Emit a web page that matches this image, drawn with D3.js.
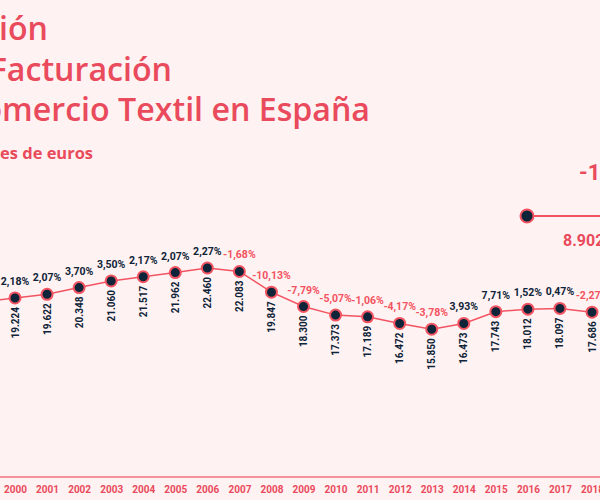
<!DOCTYPE html>
<html>
<head>
<meta charset="utf-8">
<script src="https://cdn.jsdelivr.net/npm/d3@7/dist/d3.min.js"></script>
<style>
  html, body { margin: 0; padding: 0; background: #fff2f2; }
  svg { display: block; }
</style>
</head>
<body>
<div id="chart"></div>
<script>
/* global d3 */

// Facturación del comercio textil, millones de euros
const years = [1999, 2000, 2001, 2002, 2003, 2004, 2005, 2006, 2007, 2008, 2009,
  2010, 2011, 2012, 2013, 2014, 2015, 2016, 2017, 2018];
const values = [18814, 19224, 19622, 20348, 21060, 21517, 21962, 22460, 22083, 19847, 18300,
  17373, 17189, 16472, 15850, 16473, 17743, 18012, 18097, 17686];
const changes = [null, '2,18%', '2,07%', '3,70%', '3,50%', '2,17%', '2,07%', '2,27%', '-1,68%', '-10,13%', '-7,79%',
  '-5,07%', '-1,06%', '-4,17%', '-3,78%', '3,93%', '7,71%', '1,52%', '0,47%', '-2,27%'];
const valueLabels = [null, '19.224', '19.622', '20.348', '21.060', '21.517', '21.962', '22.460', '22.083', '19.847', '18.300',
  '17.373', '17.189', '16.472', '15.850', '16.473', '17.743', '18.012', '18.097', '17.686'];
const titleLines = ['Evolución', 'Facturación', 'Comercio Textil en España'];
const subtitle = 'Millones de euros';
const calloutValue = '8.902';
const calloutChange = '-1';

const RED = '#e94a5c', LINE = '#f25462', NAVY = '#0e2438', NEG = '#f2535f', AXIS = '#f6929c';
const FONT_NUM = 'Roboto, sans-serif', FONT_TITLE = '"Open Sans", sans-serif';

const w = 600, h = 500;
const svg = d3.select('#chart').append('svg').attr('width', w).attr('height', h);

// size title so the visible part of the last line spans like the reference
function measure(str, size, weight) {
  const t = svg.append('text').attr('font-size', size).attr('font-weight', weight)
    .attr('font-family', FONT_TITLE).text(str);
  const len = t.node().getComputedTextLength();
  t.remove();
  return len;
}
const titleSize = 32 * 368 / measure('mercio Textil en España', 32, 600);
const subSize = 15 * 93 / measure('es de euros', 15, 700);

// title (cropped on the left, like the reference)
const titleEnds = [48, 172, 370];
svg.selectAll('.title').data(titleLines).join('text')
  .attr('class', 'title')
  .attr('x', (d, i) => titleEnds[i]).attr('y', (d, i) => 40 + i * 40.5)
  .attr('text-anchor', 'end')
  .attr('fill', RED).attr('font-size', titleSize).attr('font-weight', 600).attr('font-family', FONT_TITLE)
  .text(d => d);

svg.append('text').attr('x', 93).attr('y', 159).attr('text-anchor', 'end')
  .attr('fill', RED).attr('font-size', subSize).attr('font-weight', 700).attr('font-family', FONT_TITLE)
  .text(subtitle);

// scales
const x = d3.scaleLinear().domain([2000, 2018]).range([15, 592]);
const y = d3.scaleLinear().domain([0, 22460]).range([476, 268]);
const data = years.map((yr, i) => ({ year: yr, value: values[i], change: changes[i], label: valueLabels[i] }));
const shown = data.filter(d => d.label);

// axis
const axisY = 477;
svg.append('line').attr('x1', 0).attr('x2', w).attr('y1', axisY).attr('y2', axisY)
  .attr('stroke', AXIS).attr('stroke-width', 2);
const ax = svg.append('g').attr('transform', `translate(0,${axisY})`)
  .call(d3.axisBottom(x).tickValues(shown.map(d => d.year)).tickFormat(d3.format('d')).tickSize(0).tickPadding(9));
ax.select('.domain').remove();
ax.selectAll('.tick text').attr('fill', RED).attr('font-size', 10).attr('font-weight', 700).attr('font-family', FONT_NUM);

// line
const line = d3.line().x(d => x(d.year)).y(d => y(d.value));
svg.append('path').datum(data).attr('d', line)
  .attr('fill', 'none').attr('stroke', LINE).attr('stroke-width', 1.5);

// dots
svg.selectAll('.dot').data(shown).join('circle')
  .attr('class', 'dot')
  .attr('cx', d => x(d.year)).attr('cy', d => y(d.value)).attr('r', 5.5)
  .attr('fill', NAVY).attr('stroke', LINE).attr('stroke-width', 2);

// change labels
svg.selectAll('.chg').data(shown).join('text')
  .attr('class', 'chg')
  .attr('x', d => x(d.year)).attr('y', d => y(d.value) - 13)
  .attr('text-anchor', 'middle')
  .attr('fill', d => d.change.startsWith('-') ? NEG : NAVY)
  .attr('font-size', 10.5).attr('font-weight', 700).attr('font-family', FONT_NUM)
  .text(d => d.change);

// value labels, rotated
svg.selectAll('.val').data(shown).join('text')
  .attr('class', 'val')
  .attr('transform', d => `translate(${x(d.year)},${y(d.value) + 9}) rotate(-90)`)
  .attr('text-anchor', 'end').attr('dy', '0.35em')
  .attr('fill', NAVY).attr('font-size', 10).attr('font-weight', 700).attr('font-family', FONT_NUM)
  .text(d => d.label);

// callout (top right, cropped)
const co = svg.append('g').attr('transform', 'translate(527,216)');
co.append('line').attr('x1', 0).attr('x2', 100).attr('stroke', LINE).attr('stroke-width', 2);
co.append('circle').attr('r', 6.5).attr('fill', NAVY).attr('stroke', LINE).attr('stroke-width', 2);
co.append('text').attr('x', 36).attr('y', 30)
  .attr('fill', RED).attr('font-size', 16).attr('font-weight', 700).attr('font-family', FONT_NUM)
  .text(calloutValue);
co.append('text').attr('x', 52).attr('y', -36)
  .attr('fill', RED).attr('font-size', 22).attr('font-weight', 700).attr('font-family', FONT_NUM)
  .text(calloutChange);
</script>
</body>
</html>
